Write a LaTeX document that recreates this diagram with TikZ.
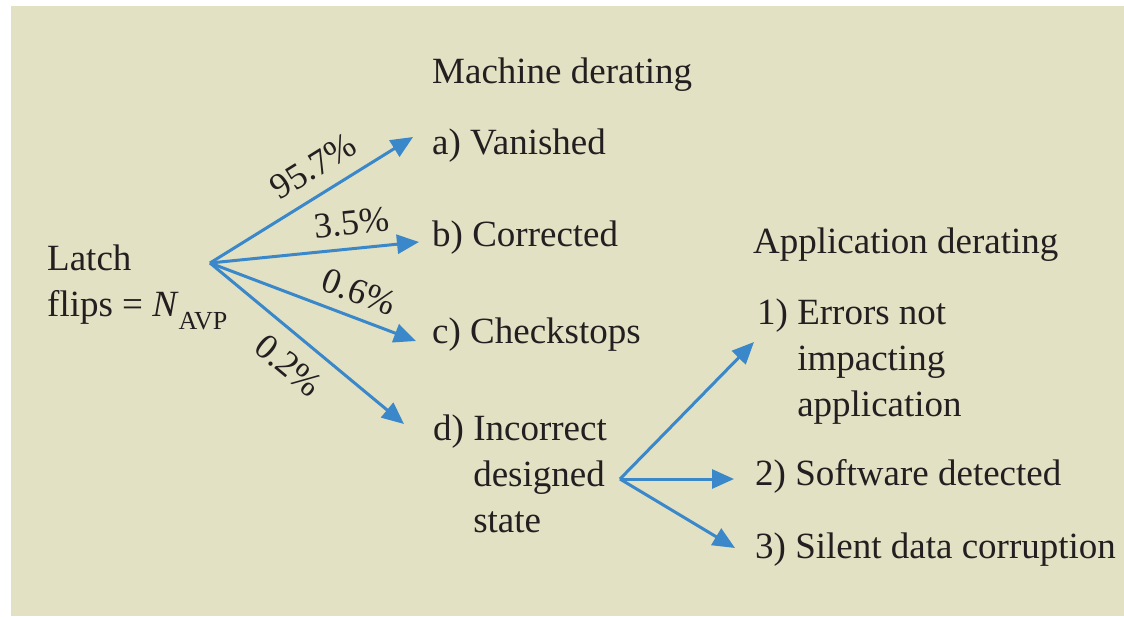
\documentclass[tikz,border=0pt]{standalone}
\usepackage{fontspec}
\setmainfont{Liberation Serif}
\usetikzlibrary{arrows.meta}
\definecolor{bgc}{RGB}{226,225,196}
\definecolor{arr}{RGB}{58,135,201}
\definecolor{ink}{RGB}{35,31,32}
\tikzset{
  txt/.style={anchor=base west, inner sep=0pt, text=ink, font=\fontsize{37}{46}\selectfont},
  pct/.style={sloped, inner sep=0pt, text=ink, font=\fontsize{36}{46}\selectfont},
  flow/.style={draw=arr, line width=3pt, -{Triangle[length=22pt,width=19pt]}}
}
\begin{document}
\begin{tikzpicture}[x=1pt,y=-1pt]
\useasboundingbox (0,0) rectangle (1124,616);
\fill[white] (0,0) rectangle (1124,616);
\fill[bgc] (11,6) rectangle (1124,616);

\node[txt] (latch) at (47,270) {\begin{tabular}[t]{@{}l@{}}Latch\\flips = \textit{N}\raisebox{-13pt}{\fontsize{26}{26}\selectfont AVP}\end{tabular}};
\node[txt] (mach) at (432,83) {Machine derating};
\node[txt] (va) at (432,154) {a) Vanished};
\node[txt] (vb) at (432,246) {b) Corrected};
\node[txt] (vc) at (432,343) {c) Checkstops};
\node[txt] (vd) at (433,440) {\begin{tabular}[t]{@{}l@{\ }l@{}}d)&Incorrect\\&designed\\&state\end{tabular}};
\node[txt] (appl) at (753,253) {Application derating};
\node[txt] (e1) at (757,324) {\begin{tabular}[t]{@{}l@{\ }l@{}}1)&Errors not\\&impacting\\&application\end{tabular}};
\node[txt] (e2) at (755,485) {2) Software detected};
\node[txt] (e3) at (755,558) {3) Silent data corruption};

\coordinate (src) at (210,263);
\coordinate (ta) at (413,137);
\coordinate (tb) at (419,242);
\coordinate (tc) at (416,341);
\coordinate (td) at (404,424);
\coordinate (src2) at (620,479);
\coordinate (t1) at (754,342);
\coordinate (t2) at (734,479);
\coordinate (t3) at (735,548);

\draw[flow] (src) -- node[pct, pos=0.58, above=14pt] (la) {95.7\%} (ta);
\draw[flow] (src) -- node[pct, pos=0.69, above=12pt] (lb) {3.5\%} (tb);
\draw[flow] (src) -- node[pct, pos=0.68, above=12pt] (lc) {0.6\%} (tc);
\draw[flow] (src) -- node[pct, pos=0.5, below=15pt] (ld) {0.2\%} (td);
\draw[flow] (src2) -- (t1);
\draw[flow] (src2) -- (t2);
\draw[flow] (src2) -- (t3);
\end{tikzpicture}
\end{document}
